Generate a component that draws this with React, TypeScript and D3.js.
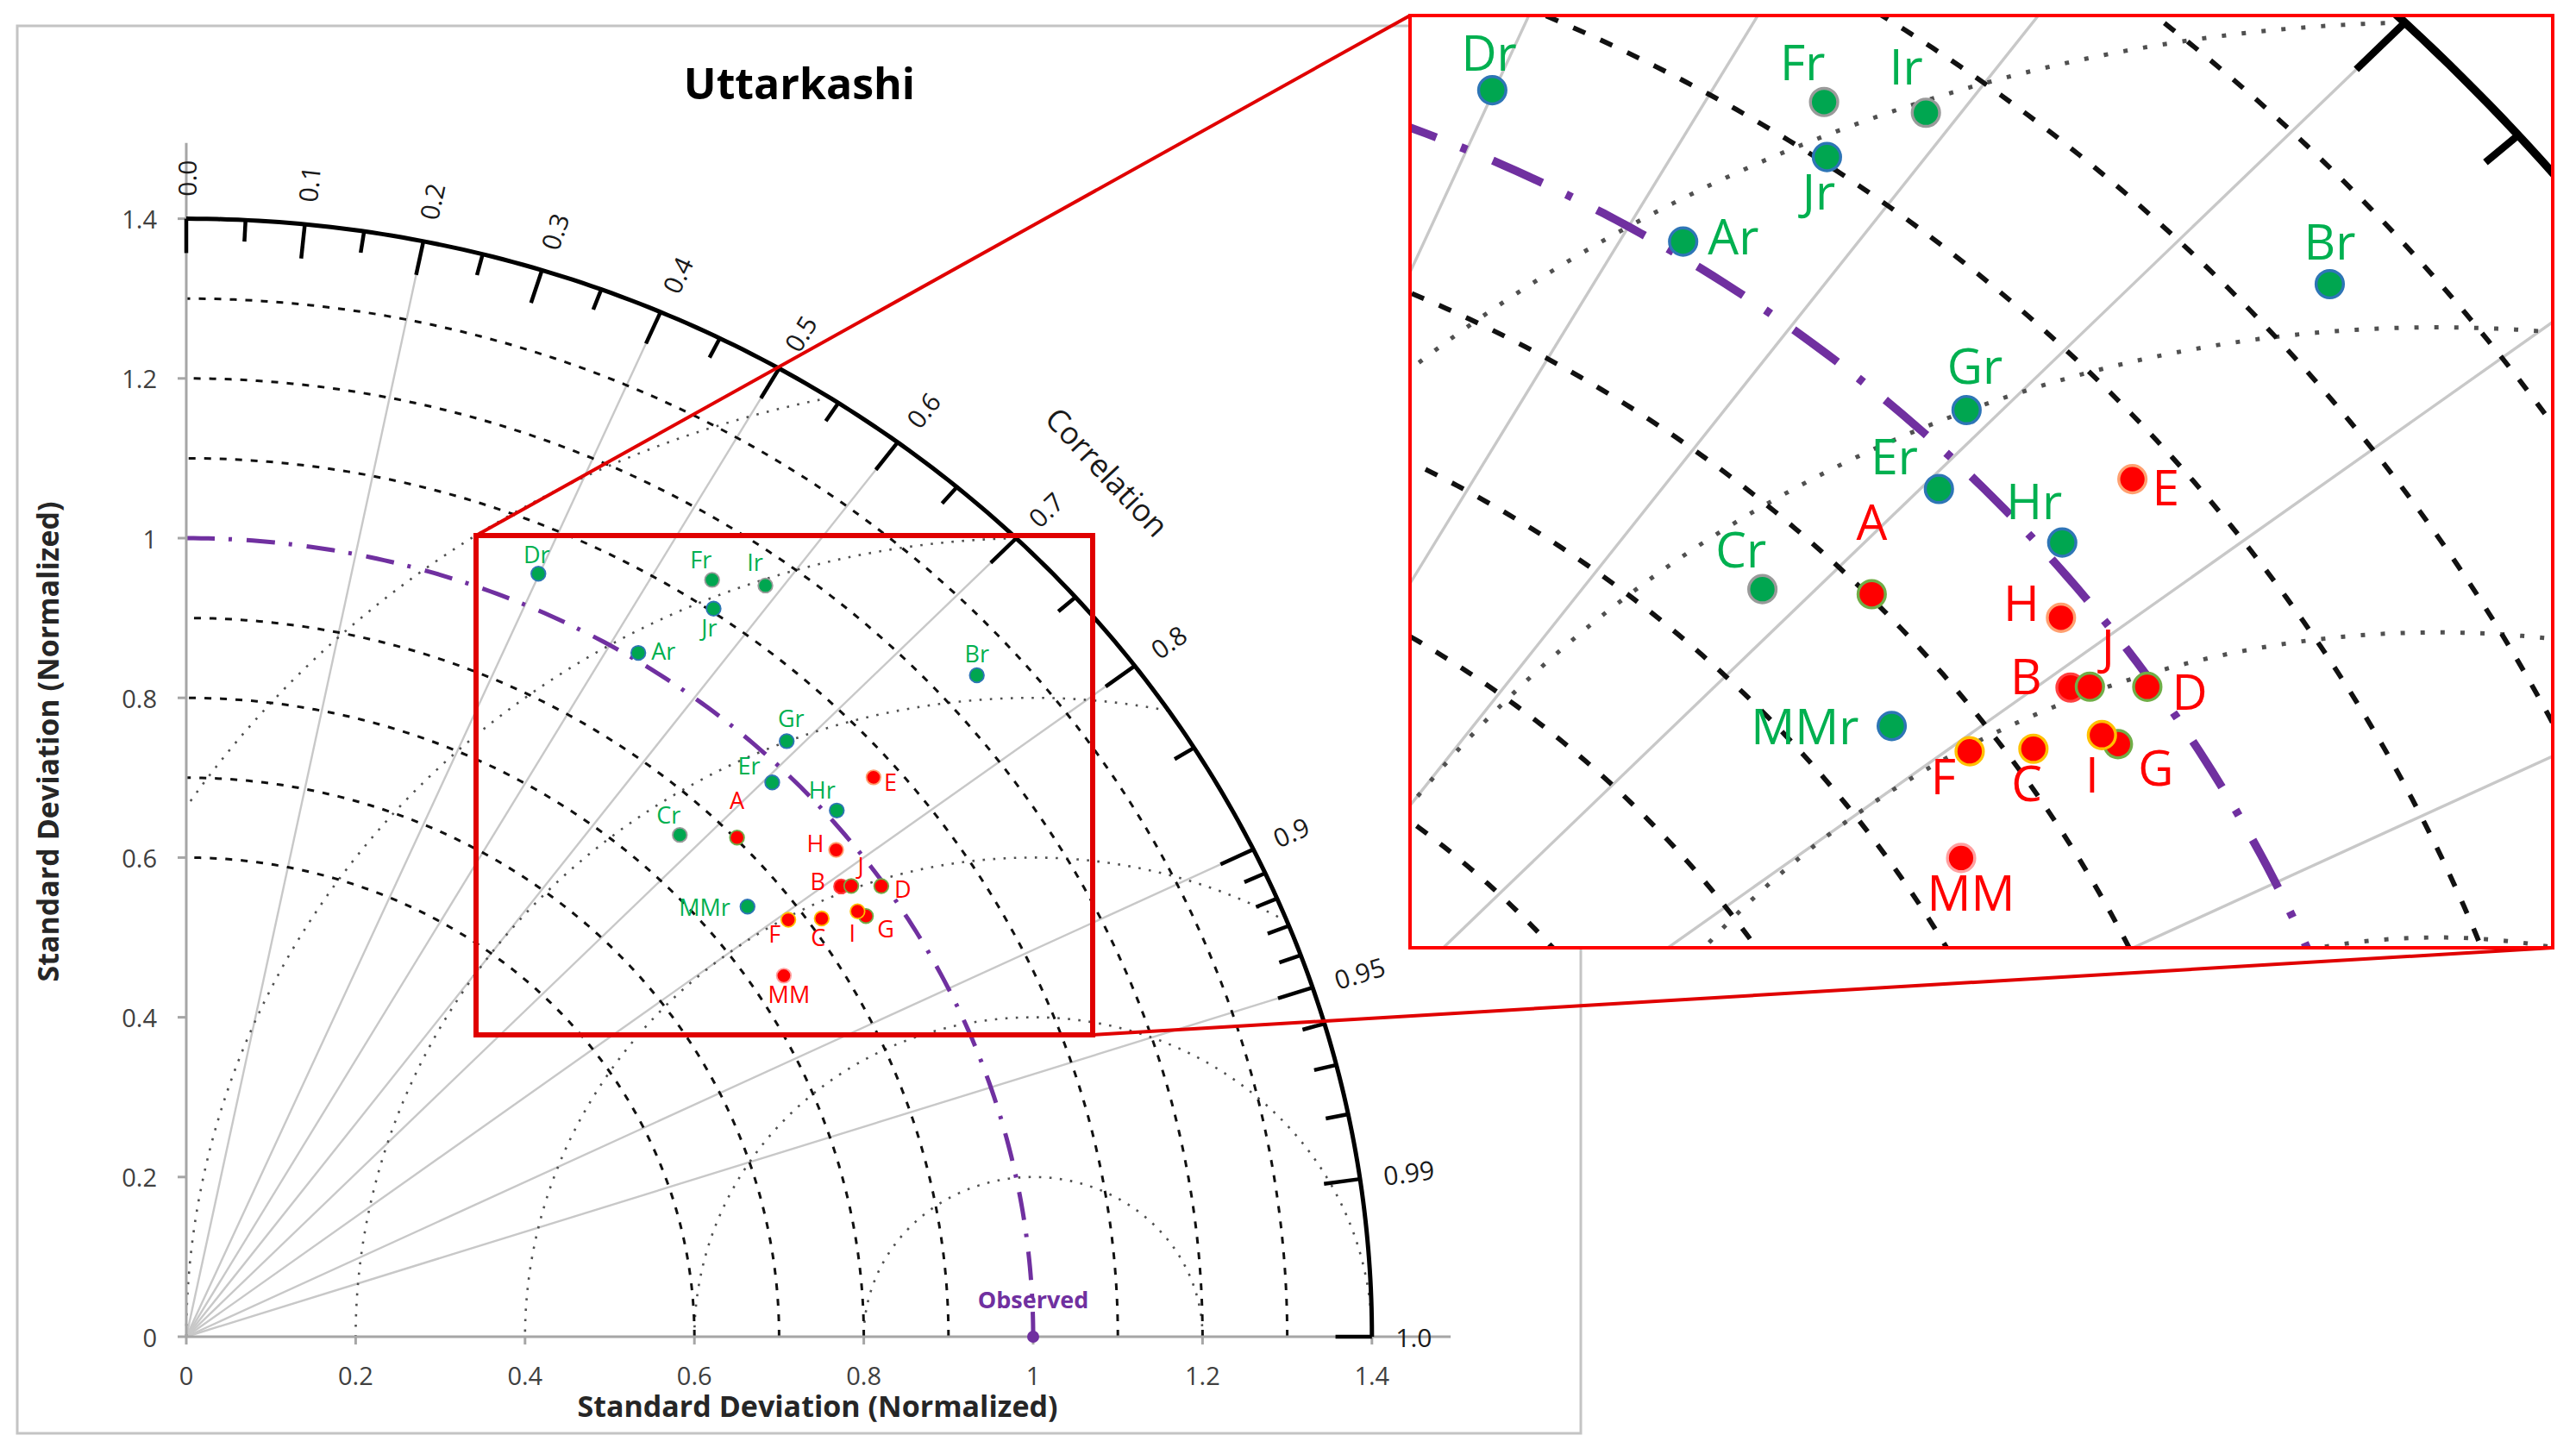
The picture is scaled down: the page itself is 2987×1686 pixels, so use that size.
import { useEffect, useRef } from 'react';
import * as d3 from 'd3';

// Taylor diagram, Uttarkashi (normalized std dev vs correlation)
const gridNames = ['Dr', 'Fr', 'Ir', 'Jr', 'Ar', 'Gr', 'Er', 'Cr', 'Hr', 'Br', 'MMr'];
const gridStd = [1.042, 1.133, 1.163, 1.104, 1.009, 1.029, 0.98, 0.857, 1.012, 1.248, 0.854];
const gridCorr = [0.399, 0.548, 0.588, 0.564, 0.529, 0.689, 0.706, 0.68, 0.759, 0.748, 0.776];

const stationNames = ['A', 'B', 'C', 'D', 'E', 'F', 'G', 'H', 'I', 'J', 'MM'];
const stationStd = [0.902, 0.957, 0.915, 0.996, 1.072, 0.882, 0.96, 0.98, 0.955, 0.967, 0.838];
const stationCorr = [0.721, 0.808, 0.82, 0.824, 0.757, 0.806, 0.836, 0.783, 0.83, 0.812, 0.842];

const observedStd = 1;

const sdTicks = [0, 0.2, 0.4, 0.6, 0.8, 1, 1.2, 1.4];
const sdTickLabels = ['0', '0.2', '0.4', '0.6', '0.8', '1', '1.2', '1.4'];
const sdArcs = [0.6, 0.7, 0.8, 0.9, 1.1, 1.2, 1.3];
const rmsArcs = [0.2, 0.4, 0.6, 0.8, 1.0, 1.2];
const rayCorr = [0.2, 0.4, 0.5, 0.6, 0.7, 0.8, 0.9, 0.95];
const corrMajor = [0, 0.1, 0.2, 0.3, 0.4, 0.5, 0.6, 0.7, 0.8, 0.9, 0.95, 0.99, 1];
const corrMajorLabels = ['0.0', '0.1', '0.2', '0.3', '0.4', '0.5', '0.6', '0.7', '0.8', '0.9', '0.95', '0.99', '1.0'];
const corrMinor = [0.05, 0.15, 0.25, 0.35, 0.45, 0.55, 0.65, 0.75, 0.85, 0.91, 0.92, 0.93, 0.94, 0.96, 0.97, 0.98];

// marker outline colours
const edge: Record<string, string> = {
  Dr: '#2e75b6', Fr: '#9a9a9a', Ir: '#9a9a9a', Jr: '#2e75b6', Ar: '#2e75b6', Gr: '#2e75b6',
  Er: '#2e75b6', Cr: '#9a9a9a', Hr: '#2e75b6', Br: '#2e75b6', MMr: '#2e75b6',
  A: '#70ad47', B: '#ff4040', C: '#ffc000', D: '#70ad47', E: '#ffa070', F: '#ffc000',
  G: '#70ad47', H: '#ffa070', I: '#ffc000', J: '#70ad47', MM: '#ffa0a0',
};

// label placement relative to the marker (px at main scale)
const labelAt: Record<string, [number, number, string]> = {
  Dr: [-2, -12, 'middle'], Fr: [-13, -13, 'middle'], Ir: [-12, -17, 'middle'], Jr: [-5, 32, 'middle'],
  Ar: [15, 8, 'start'], Gr: [5, -16, 'middle'], Er: [-27, -9, 'middle'], Cr: [-13, -13, 'middle'],
  Hr: [-17, -14, 'middle'], Br: [0, -15, 'middle'], MMr: [-20, 11, 'end'],
  A: [0, -33, 'middle'], B: [-27, 4, 'middle'], C: [-4, 32, 'middle'], D: [15, 14, 'start'],
  E: [12, 16, 'start'], F: [-16, 26, 'middle'], G: [23, 25, 'middle'], H: [-24, 2, 'middle'],
  I: [-6, 35, 'middle'], J: [11, -13, 'middle'], MM: [6, 32, 'middle'],
};

const W = 2987;
const H = 1686;
const X0 = 216;
const Y0 = 1550;
const UX = 982;
const UY = 926;
const RMAX = 1.4;

// inset magnification of the red box
const Z = 1.91;
const ZX = 538;
const ZY = -1166;

const FONT = "'Open Sans', 'Noto Sans', sans-serif";
const GREEN = '#00b050';
const RED = '#ff0000';
const PURPLE = '#7030a0';

type Sel = d3.Selection<SVGGElement, unknown, null, undefined>;
type Scale = d3.ScaleLinear<number, number>;

function drawDiagram(g: Sel, sx: Scale, sy: Scale, k: number, fk: number, main: boolean) {
  const line = d3.line<[number, number]>().x(d => sx(d[0])).y(d => sy(d[1]));
  const polar = (r: number, t: number): [number, number] => [r * Math.cos(t), r * Math.sin(t)];

  // correlation rays
  g.append('g').selectAll('line').data(rayCorr).join('line')
    .attr('x1', sx(0)).attr('y1', sy(0))
    .attr('x2', c => sx(RMAX * c)).attr('y2', c => sy(RMAX * Math.sqrt(1 - c * c)))
    .attr('stroke', '#c8c8c8').attr('stroke-width', 2.4 * (main ? 1 : 1.4));

  // centred RMS arcs around the observed point
  rmsArcs.forEach(R => {
    const cmin = (RMAX * RMAX - observedStd * observedStd - R * R) / (2 * R * observedStd);
    const p0 = cmin >= 1 ? 0 : Math.acos(cmin);
    const p1 = R > observedStd ? Math.acos(-observedStd / R) : Math.PI;
    const pts = d3.range(0, 241).map(i => {
      const p = p0 + ((p1 - p0) * i) / 240;
      return [observedStd + R * Math.cos(p), R * Math.sin(p)] as [number, number];
    });
    g.append('path').attr('d', line(pts)).attr('fill', 'none')
      .attr('stroke', '#505050').attr('stroke-width', 2.6 * k)
      .attr('stroke-dasharray', `${2.6 * k},${9.5 * k}`);
  });

  // std dev arcs
  sdArcs.forEach(r => {
    const pts = d3.range(0, 181).map(i => polar(r, (Math.PI / 2) * (i / 180)));
    g.append('path').attr('d', line(pts)).attr('fill', 'none')
      .attr('stroke', '#111').attr('stroke-width', 3 * k)
      .attr('stroke-dasharray', `${8 * k},${10 * k}`);
  });

  // observed arc
  const obs = d3.range(0, 181).map(i => polar(observedStd, (Math.PI / 2) * (1 - i / 180)));
  g.append('path').attr('d', line(obs)).attr('fill', 'none')
    .attr('stroke', PURPLE).attr('stroke-width', 5 * k)
    .attr('stroke-dasharray', `${33 * k},${16 * k},${4 * k},${17 * k}`);

  if (main) {
    // axes
    const axis = g.append('g').attr('stroke', '#a6a6a6').attr('stroke-width', 3);
    axis.append('line').attr('x1', sx(0)).attr('y1', sy(0)).attr('x2', sx(1.493)).attr('y2', sy(0));
    axis.append('line').attr('x1', sx(0)).attr('y1', sy(0)).attr('x2', sx(0)).attr('y2', sy(1.495));
    axis.selectAll('.xt').data(sdTicks).join('line')
      .attr('x1', d => sx(d)).attr('x2', d => sx(d)).attr('y1', sy(0)).attr('y2', sy(0) + 9);
    axis.selectAll('.yt').data(sdTicks).join('line')
      .attr('y1', d => sy(d)).attr('y2', d => sy(d)).attr('x1', sx(0) - 10).attr('x2', sx(0));

    g.append('g').selectAll('text').data(sdTicks).join('text')
      .attr('x', d => sx(d)).attr('y', sy(0) + 56).attr('text-anchor', 'middle')
      .attr('font-size', 29).attr('fill', '#404040').text((_, i) => sdTickLabels[i]);
    g.append('g').selectAll('text').data(sdTicks).join('text')
      .attr('x', sx(0) - 34).attr('y', d => sy(d)).attr('text-anchor', 'end')
      .attr('dominant-baseline', 'central')
      .attr('font-size', 29).attr('fill', '#404040').text((_, i) => sdTickLabels[i]);
  }

  // outer correlation arc with ticks
  const outer = d3.range(0, 181).map(i => polar(RMAX, (Math.PI / 2) * (i / 180)));
  g.append('path').attr('d', line(outer)).attr('fill', 'none')
    .attr('stroke', '#000').attr('stroke-width', 5 * k);
  const tick = (c: number, len: number) => {
    const t = Math.acos(c);
    const a = polar(RMAX, t);
    const b = polar(RMAX - len, t);
    return { x1: sx(a[0]), y1: sy(a[1]), x2: sx(b[0]), y2: sy(b[1]) };
  };
  g.append('g').selectAll('line').data([...corrMajor.map(c => tick(c, 0.043)), ...corrMinor.map(c => tick(c, 0.027))])
    .join('line')
    .attr('x1', d => d.x1).attr('y1', d => d.y1).attr('x2', d => d.x2).attr('y2', d => d.y2)
    .attr('stroke', '#000').attr('stroke-width', 4.5 * k);

  if (main) {
    g.append('g').selectAll('text').data(corrMajor).join('text')
      .attr('transform', c => {
        const t = Math.acos(c);
        const p = polar(1.428, t);
        const ang = (Math.atan2(sy(0) - sy(Math.sin(t)), sx(Math.cos(t)) - sx(0)) * 180) / Math.PI;
        return `translate(${sx(p[0])},${sy(p[1])}) rotate(${-ang})`;
      })
      .attr('dominant-baseline', 'central').attr('font-size', 30).attr('fill', '#1a1a1a')
      .text((_, i) => corrMajorLabels[i]);
  }

  // observed point
  g.append('circle').attr('cx', sx(observedStd)).attr('cy', sy(0)).attr('r', 7 * k).attr('fill', PURPLE);
  if (main) {
    g.append('text').attr('x', sx(observedStd)).attr('y', sy(0) - 33).attr('text-anchor', 'middle')
      .attr('font-size', 27).attr('font-weight', 700).attr('fill', PURPLE).text('Observed');
  }

  // model markers
  const pts = [
    ...gridNames.map((n, i) => ({ n, s: gridStd[i], c: gridCorr[i], fill: '#00a650', col: GREEN })),
    ...stationNames.map((n, i) => ({ n, s: stationStd[i], c: stationCorr[i], fill: '#ff0000', col: RED })),
  ].map(d => {
    const t = Math.acos(d.c);
    return { ...d, x: sx(d.s * Math.cos(t)), y: sy(d.s * Math.sin(t)) };
  });

  g.append('g').selectAll('circle').data(pts).join('circle')
    .attr('cx', d => d.x).attr('cy', d => d.y).attr('r', 8.3 * k)
    .attr('fill', d => d.fill).attr('stroke', d => edge[d.n]).attr('stroke-width', 1.8 * k);

  g.append('g').selectAll('text').data(pts).join('text')
    .attr('x', d => d.x + labelAt[d.n][0] * k)
    .attr('y', d => d.y + labelAt[d.n][1] * k)
    .attr('text-anchor', d => labelAt[d.n][2])
    .attr('font-size', 27 * fk).attr('fill', d => d.col)
    .text(d => d.n);
}

export default function App() {
  const ref = useRef<SVGSVGElement>(null);

  useEffect(() => {
    if (!ref.current) return;
    const svg = d3.select(ref.current);
    svg.selectAll('*').remove();
    svg.attr('font-family', FONT);

    svg.append('rect').attr('width', W).attr('height', H).attr('fill', '#fff');

    // left chart frame
    svg.append('rect').attr('x', 20).attr('y', 30).attr('width', 1813).attr('height', 1632)
      .attr('fill', 'none').attr('stroke', '#c4c4c4').attr('stroke-width', 3);

    const sx = d3.scaleLinear().domain([0, 1]).range([X0, X0 + UX]);
    const sy = d3.scaleLinear().domain([0, 1]).range([Y0, Y0 - UY]);

    const mainG = svg.append('g');
    drawDiagram(mainG, sx, sy, 1, 1, true);

    svg.append('text').attr('x', 927).attr('y', 115).attr('text-anchor', 'middle')
      .attr('font-size', 50).attr('font-weight', 700).attr('fill', '#000').text('Uttarkashi');
    svg.append('text').attr('x', 948).attr('y', 1643).attr('text-anchor', 'middle')
      .attr('font-size', 34).attr('font-weight', 700).attr('fill', '#262626')
      .text('Standard Deviation (Normalized)');
    svg.append('text').attr('transform', 'translate(68,860) rotate(-90)').attr('text-anchor', 'middle')
      .attr('font-size', 34).attr('font-weight', 700).attr('fill', '#262626')
      .text('Standard Deviation (Normalized)');
    svg.append('text').attr('transform', 'translate(1284,547) rotate(47)').attr('text-anchor', 'middle')
      .attr('dominant-baseline', 'central').attr('font-size', 36).attr('fill', '#1a1a1a')
      .text('Correlation');

    // zoom box on the main chart
    const box = { x0: 552, y0: 621, x1: 1267, y1: 1200 };
    const inset = { x0: 1635, y0: 18, x1: 2960, y1: 1099 };

    svg.append('clipPath').attr('id', 'inset-clip').append('rect')
      .attr('x', inset.x0).attr('y', inset.y0)
      .attr('width', inset.x1 - inset.x0).attr('height', inset.y1 - inset.y0);

    const isx = d3.scaleLinear().domain([0, 1]).range([X0 * Z + ZX, (X0 + UX) * Z + ZX]);
    const isy = d3.scaleLinear().domain([0, 1]).range([Y0 * Z + ZY, (Y0 - UY) * Z + ZY]);
    const insetG = svg.append('g').attr('clip-path', 'url(#inset-clip)');
    insetG.append('rect').attr('x', inset.x0).attr('y', inset.y0)
      .attr('width', inset.x1 - inset.x0).attr('height', inset.y1 - inset.y0).attr('fill', '#fff');
    drawDiagram(insetG, isx, isy, Z, 2.1, false);

    svg.append('line').attr('x1', box.x0).attr('y1', box.y0).attr('x2', inset.x0).attr('y2', inset.y0)
      .attr('stroke', '#e00000').attr('stroke-width', 4);
    svg.append('line').attr('x1', box.x1).attr('y1', box.y1).attr('x2', inset.x1).attr('y2', inset.y1)
      .attr('stroke', '#e00000').attr('stroke-width', 4);
    svg.append('rect').attr('x', box.x0).attr('y', box.y0)
      .attr('width', box.x1 - box.x0).attr('height', box.y1 - box.y0)
      .attr('fill', 'none').attr('stroke', '#e00000').attr('stroke-width', 6);
    svg.append('rect').attr('x', inset.x0).attr('y', inset.y0)
      .attr('width', inset.x1 - inset.x0).attr('height', inset.y1 - inset.y0)
      .attr('fill', 'none').attr('stroke', '#ff0000').attr('stroke-width', 4);
  }, []);

  return (
    <svg
      ref={ref}
      width={W}
      height={H}
      style={{ position: 'absolute', left: 0, top: 0, display: 'block' }}
    />
  );
}
